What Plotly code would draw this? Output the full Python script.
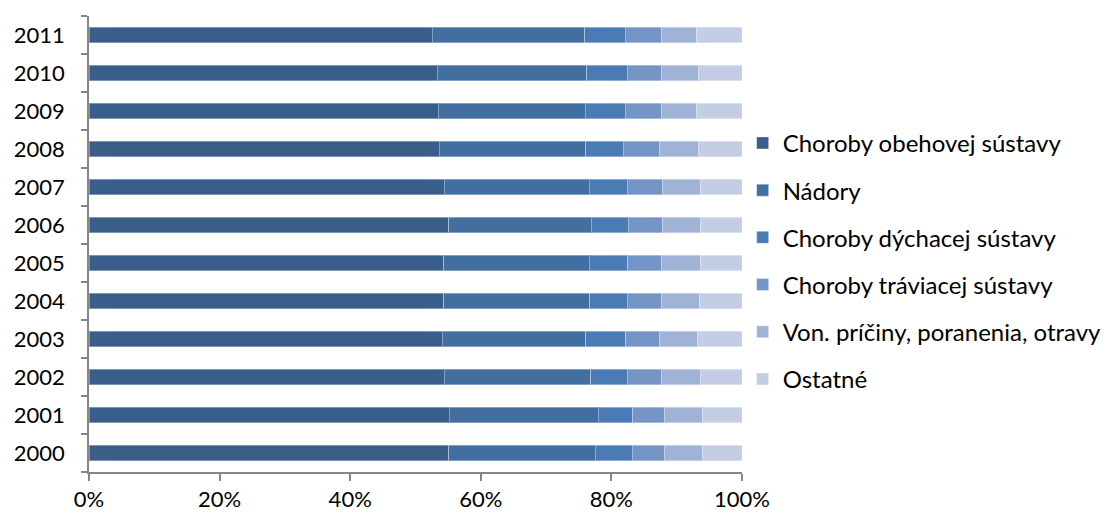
import plotly.graph_objects as go

# Shares of causes of death by year (percent of all deaths)
years = ["2000", "2001", "2002", "2003", "2004", "2005",
         "2006", "2007", "2008", "2009", "2010", "2011"]

obehova = [55.1, 55.2, 54.4, 54.1, 54.3, 54.3, 55.1, 54.4, 53.6, 53.5, 53.3, 52.6]
nadory = [22.4, 22.8, 22.4, 22.0, 22.4, 22.3, 21.8, 22.2, 22.5, 22.5, 22.9, 23.3]
dychacia = [5.7, 5.3, 5.6, 6.1, 5.7, 5.9, 5.7, 5.8, 5.7, 6.1, 6.2, 6.2]
traviaca = [4.9, 4.9, 5.3, 5.2, 5.2, 5.2, 5.3, 5.5, 5.6, 5.5, 5.3, 5.6]
vonkajsie = [5.9, 5.8, 6.0, 5.8, 5.9, 5.9, 5.7, 5.7, 6.0, 5.5, 5.6, 5.4]
ostatne = [6.0, 6.0, 6.3, 6.8, 6.5, 6.4, 6.4, 6.4, 6.6, 6.9, 6.7, 6.9]

series_names = [
    "Choroby obehovej sústavy",
    "Nádory",
    "Choroby dýchacej sústavy",
    "Choroby tráviacej sústavy",
    "Von. príčiny, poranenia, otravy",
    "Ostatné",
]
series_values = [obehova, nadory, dychacia, traviaca, vonkajsie, ostatne]
colors = ["#395E8A", "#426EA0", "#4A7BB5", "#7394C5", "#A0B3D6", "#C3CDE3"]

x_ticks = [0, 20, 40, 60, 80, 100]
x_tick_labels = ["0%", "20%", "40%", "60%", "80%", "100%"]

FONT = "Lato, 'Open Sans', sans-serif"

fig = go.Figure()
for i, (name, vals, col) in enumerate(zip(series_names, series_values, colors)):
    fig.add_trace(go.Bar(
        y=years, x=vals, name=name, orientation="h",
        marker=dict(color=col, line=dict(color="rgba(255,255,255,0.35)", width=1)),
        legendgroup=f"g{i}",
    ))

fig.update_layout(
    barmode="stack",
    barnorm="percent",
    bargap=0.58,
    width=1117, height=515,
    margin=dict(l=89, r=375, t=16, b=43, autoexpand=False),
    paper_bgcolor="white", plot_bgcolor="white",
    font=dict(family=FONT, size=22, color="#000000"),
    showlegend=True,
    legend=dict(
        x=1.001, xanchor="left", y=0.462, yanchor="middle",
        traceorder="grouped", tracegroupgap=13,
        font=dict(family=FONT, size=24, color="#000000"),
        itemwidth=30,
    ),
    xaxis=dict(
        range=[0, 100], tickmode="array", tickvals=x_ticks, ticktext=x_tick_labels,
        showgrid=False, zeroline=False, automargin=False,
        showline=True, linecolor="#868686", linewidth=1.5,
        ticks="outside", ticklen=7, tickcolor="#868686", tickwidth=1.5,
        tickfont=dict(family=FONT, size=22),
    ),
    yaxis=dict(
        type="category", categoryorder="array", categoryarray=years,
        showgrid=False, zeroline=False, automargin=False,
        showline=True, linecolor="#868686", linewidth=1.5,
        ticks="outside", tickson="boundaries", ticklen=6,
        tickcolor="#868686", tickwidth=1.5,
        tickfont=dict(family=FONT, size=22),
        ticklabelstandoff=18,
    ),
)

fig.write_html("out.html")
